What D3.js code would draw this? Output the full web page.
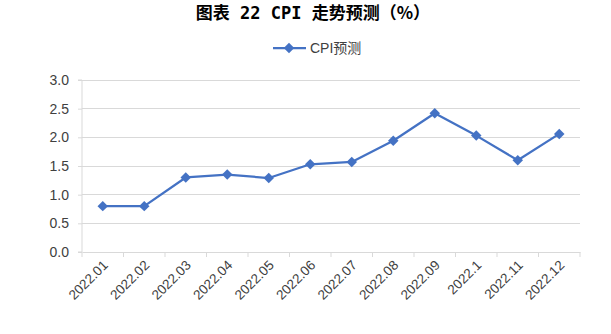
<!DOCTYPE html>
<html><head><meta charset="utf-8">
<script src="https://cdn.jsdelivr.net/npm/d3@7"></script>
<style>body{margin:0;background:#fff}svg{display:block}</style>
</head><body>
<svg id="c" width="611" height="334"></svg>
<script>
const categories = ["2022.01","2022.02","2022.03","2022.04","2022.05","2022.06","2022.07","2022.08","2022.09","2022.1","2022.11","2022.12"];
const cpiForecast = [0.8,0.8,1.3,1.35,1.29,1.53,1.57,1.94,2.42,2.03,1.6,2.06];
const yTicks = [0,0.5,1,1.5,2,2.5,3];
const seriesName = "CPI预测";
const titleMain = "图表 22 CPI 走势预测";
const titleUnit = "（%）";

const svg = d3.select("#c");
const m = {l:82, r:580, t:80, b:252};
const x = d3.scaleBand().domain(categories).range([m.l, m.r]);
const y = d3.scaleLinear().domain([0,3]).range([m.b, m.t]);
const color = "#4472C4";
const font = "'Liberation Sans', Arial, 'Noto Sans CJK SC', sans-serif";

const tt = svg.append("text").attr("x",313).attr("y",19).attr("text-anchor","middle")
  .attr("font-weight","bold").attr("font-size",17).attr("fill","#000");
tt.append("tspan").attr("font-family","'DejaVu Sans Mono', 'Noto Sans CJK SC', monospace").text(titleMain);
tt.append("tspan").attr("font-family","'Noto Sans CJK SC', sans-serif").text(titleUnit);

// gridlines
svg.append("g").selectAll("line").data(yTicks.slice(1)).join("line")
  .attr("x1",m.l).attr("x2",m.r).attr("y1",d=>y(d)).attr("y2",d=>y(d))
  .attr("stroke","#d9d9d9").attr("stroke-width",1).attr("shape-rendering","crispEdges");

// y axis
const ya = svg.append("g").attr("transform",`translate(${m.l},0)`)
  .call(d3.axisLeft(y).tickValues(yTicks).tickFormat(d3.format(".1f")).tickSize(4).tickPadding(9));
ya.select(".domain").attr("stroke","#d9d9d9").attr("d",`M-4,${m.t}H0V${m.b}H-4`);
ya.selectAll(".tick line").attr("stroke","#d9d9d9");
ya.selectAll("text").attr("font-family",font).attr("font-size",14).attr("fill","#404040");

// x axis
const xa = svg.append("g").attr("transform",`translate(0,${m.b})`)
  .call(d3.axisBottom(x).tickSize(0).tickPadding(0));
xa.select(".domain").attr("stroke","#d9d9d9");
const bounds = categories.map(c=>x(c)).concat([m.r]);
xa.append("g").selectAll("line").data(bounds).join("line")
  .attr("x1",d=>d).attr("x2",d=>d).attr("y1",0).attr("y2",5).attr("stroke","#d9d9d9");
xa.selectAll(".tick text").attr("font-family",font).attr("font-size",13.5).attr("fill","#404040")
  .attr("text-anchor","end").attr("dy","0")
  .attr("transform",`translate(6,14) rotate(-45)`);

// line
const line = d3.line().x((d,i)=>x(categories[i])+x.bandwidth()/2).y(d=>y(d));
svg.append("path").datum(cpiForecast).attr("d",line).attr("fill","none")
  .attr("stroke",color).attr("stroke-width",2.25).attr("stroke-linejoin","round");
const diamond = d3.symbol().type(d3.symbolDiamond2).size(70);
svg.append("g").selectAll("path").data(cpiForecast).join("path")
  .attr("d",diamond)
  .attr("transform",(d,i)=>`translate(${x(categories[i])+x.bandwidth()/2},${y(d)})`)
  .attr("fill",color);

// legend
const lg = svg.append("g").attr("transform","translate(273,48)");
lg.append("line").attr("x1",0).attr("x2",33).attr("y1",0).attr("y2",0).attr("stroke",color).attr("stroke-width",2.25);
lg.append("path").attr("d",diamond).attr("transform","translate(16,0)").attr("fill",color);
lg.append("text").attr("x",37).attr("y",5).attr("font-family",font).attr("font-size",14).attr("fill","#404040").text(seriesName);
</script>
</body></html>
